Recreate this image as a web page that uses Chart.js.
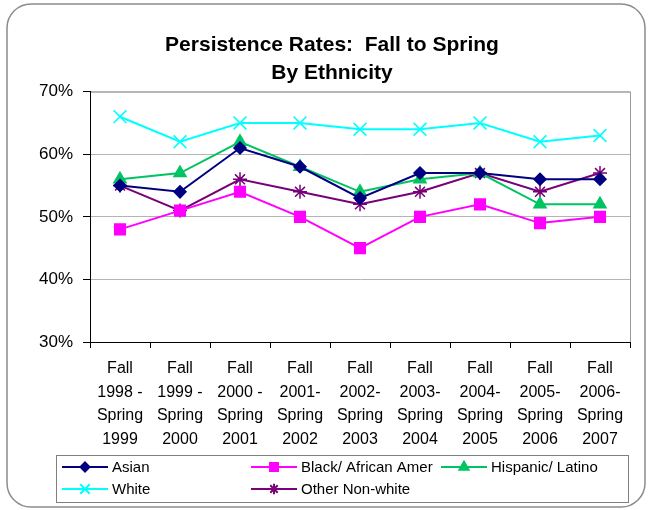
<!DOCTYPE html>
<html>
<head>
<meta charset="utf-8">
<title>Persistence Rates: Fall to Spring</title>
<script src="https://cdn.jsdelivr.net/npm/chart.js@4/dist/chart.umd.min.js"></script>
<style>
  html, body { margin: 0; padding: 0; background: #fff; }
  canvas { display: block; }
</style>
</head>
<body>
<canvas id="persistenceChart" width="650" height="510"></canvas>
<script>
// ===========================
// DATA
// ===========================
const categories = [
  ["Fall", "1998 -", "Spring", "1999"],
  ["Fall", "1999 -", "Spring", "2000"],
  ["Fall", "2000 -", "Spring", "2001"],
  ["Fall", "2001-", "Spring", "2002"],
  ["Fall", "2002-", "Spring", "2003"],
  ["Fall", "2003-", "Spring", "2004"],
  ["Fall", "2004-", "Spring", "2005"],
  ["Fall", "2005-", "Spring", "2006"],
  ["Fall", "2006-", "Spring", "2007"]
];

const asian    = [55, 54, 61, 58, 53, 57, 57, 56, 56];
const black    = [48, 51, 54, 50, 45, 50, 52, 49, 50];
const hispanic = [56, 57, 62, 58, 54, 56, 57, 52, 52];
const white    = [66, 62, 65, 65, 64, 64, 65, 62, 63];
const other    = [55, 51, 56, 54, 52, 54, 57, 54, 57];

const yTicks = [30, 40, 50, 60, 70];

const FONT = "'Liberation Sans', Arial, sans-serif";

// ===========================
// PLUGINS
// ===========================

// white page, rounded outer frame and grey plot frame
const framePlugin = {
  id: 'frame',
  beforeDraw(chart) {
    const { ctx, chartArea } = chart;
    ctx.save();
    ctx.fillStyle = '#fff';
    ctx.fillRect(0, 0, chart.width, chart.height);

    ctx.strokeStyle = '#8c8c8c';
    ctx.lineWidth = 1.5;
    ctx.beginPath();
    ctx.roundRect(7, 4, 638, 503, 24);
    ctx.stroke();

    ctx.strokeStyle = '#9a9a9a';
    ctx.lineWidth = 1;
    ctx.strokeRect(chartArea.left + 0.5, chartArea.top + 0.5,
                   chartArea.right - chartArea.left, chartArea.bottom - chartArea.top);
    ctx.restore();
  }
};

// boxed legend laid out in three columns, two rows
const boxLegendPlugin = {
  id: 'boxLegend',
  afterDraw(chart) {
    const { ctx } = chart;
    const box = { x: 56.5, y: 455.5, w: 572, h: 47 };
    const cols = [62, 251, 441];
    const rows = [467, 489];
    ctx.save();
    ctx.strokeStyle = '#808080';
    ctx.lineWidth = 1;
    ctx.strokeRect(box.x, box.y, box.w, box.h);

    ctx.font = '15px ' + FONT;
    ctx.textBaseline = 'middle';
    chart.data.datasets.forEach((ds, i) => {
      const x = cols[i % 3];
      const y = rows[Math.floor(i / 3)];
      ctx.strokeStyle = ds.borderColor;
      ctx.fillStyle = ds.backgroundColor;
      ctx.lineWidth = 2;
      ctx.beginPath();
      ctx.moveTo(x, y);
      ctx.lineTo(x + 46, y);
      ctx.stroke();
      Chart.helpers.drawPoint(ctx, {
        pointStyle: ds.pointStyle,
        radius: ds.pointRadius * 0.75,
        borderWidth: ds.pointBorderWidth
      }, x + 23, y);
      ctx.fillStyle = '#000';
      ctx.fillText(ds.label, x + 50, y + 1);
    });
    ctx.restore();
  }
};

// ===========================
// CHART
// ===========================
function makeSeries(label, data, color, pointStyle, radius) {
  return {
    label: label,
    data: data,
    borderColor: color,
    backgroundColor: color,
    pointBackgroundColor: color,
    pointBorderColor: color,
    pointStyle: pointStyle,
    pointRadius: radius,
    pointBorderWidth: 1.5,
    borderWidth: 2,
    tension: 0
  };
}

new Chart(document.getElementById('persistenceChart'), {
  type: 'line',
  data: {
    labels: categories,
    datasets: [
      makeSeries('Asian', asian, '#000080', 'rectRot', 6),
      makeSeries('Black/ African Amer', black, '#ff00ff', 'rect', 7.5),
      makeSeries('Hispanic/ Latino', hispanic, '#00c462', 'triangle', 7),
      makeSeries('White', white, '#00ffff', 'crossRot', 9),
      makeSeries('Other Non-white', other, '#780078', 'star', 7)
    ]
  },
  options: {
    responsive: false,
    animation: false,
    layout: { padding: { left: 34, right: 20, top: 0, bottom: 0 } },
    plugins: {
      legend: { display: false },
      tooltip: { enabled: false },
      title: {
        display: true,
        text: ['Persistence Rates:  Fall to Spring', 'By Ethnicity'],
        color: '#000',
        font: { family: FONT, size: 21, weight: 'bold', lineHeight: 1.35 },
        padding: { top: 31, bottom: 4 }
      }
    },
    scales: {
      x: {
        offset: true,
        grid: { drawOnChartArea: false, offset: true, tickLength: 6, color: '#000' },
        border: { color: '#000', width: 1 },
        ticks: {
          autoSkip: false,
          maxRotation: 0,
          padding: 9,
          color: '#000',
          font: { family: FONT, size: 16, lineHeight: '23.5px' }
        },
        afterFit(scale) { scale.height = 168; }
      },
      y: {
        min: 30,
        max: 70,
        afterBuildTicks(scale) {
          scale.ticks = yTicks.map(v => ({ value: v }));
        },
        grid: {
          color: ctx => (ctx.tick && ctx.tick.value === 30) ? '#000' : '#b4b4b4',
          tickColor: '#000',
          tickLength: 7
        },
        border: { color: '#000', width: 1 },
        ticks: {
          padding: 10,
          color: '#000',
          font: { family: FONT, size: 17 },
          callback: v => v + '%'
        },
        afterFit(scale) { scale.width = 56; }
      }
    }
  },
  plugins: [framePlugin, boxLegendPlugin]
});
</script>
</body>
</html>
